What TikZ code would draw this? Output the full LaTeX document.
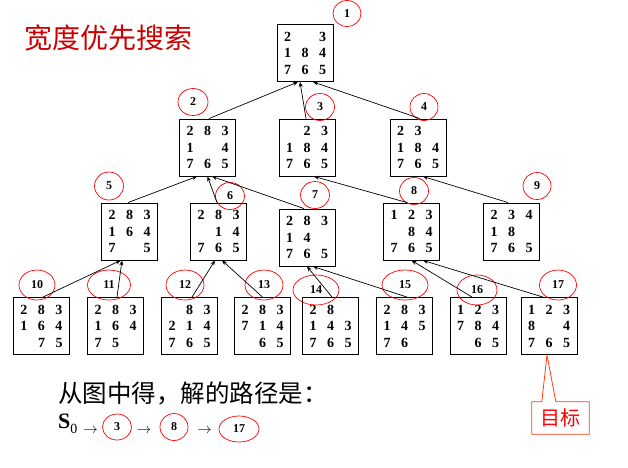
\documentclass[tikz,border=0pt]{standalone}
\usepackage{fontspec}
\setmainfont{Liberation Serif}
\newfontfamily\cjk{Noto Sans CJK SC}
\usetikzlibrary{shapes.geometric,arrows.meta}
\definecolor{titlered}{RGB}{204,0,0}
\definecolor{calloutred}{RGB}{255,60,20}
\newcommand\pzr[3]{\makebox[17.5pt]{#1}\makebox[17.5pt]{#2}\makebox[17.5pt]{#3}}
\newcommand\pz[9]{\pzr{#1}{#2}{#3}\\\pzr{#4}{#5}{#6}\\\pzr{#7}{#8}{#9}}
\tikzset{
  board/.style={draw, line width=0.9pt, minimum width=56pt, minimum height=57pt, inner sep=0pt, align=center, font=\bfseries\fontsize{14}{16.5}\selectfont},
  tag/.style={ellipse, draw=red, line width=0.7pt, inner sep=0pt, font=\bfseries\fontsize{12}{12}\selectfont},
  link/.style={-{Stealth[length=5pt,width=4pt]}, line width=0.7pt},
}
\begin{document}
\begin{tikzpicture}[x=1pt,y=-1pt]
\useasboundingbox (0,0) rectangle (628,467);
% title
\node[anchor=west, inner sep=0, text=titlered, font=\cjk\fontsize{28}{28}\selectfont] (title) at (24,38) {宽度优先搜索};
% boards
\node[board] (b1) at (305,53) {\pz{2}{}{3}{1}{8}{4}{7}{6}{5}};
\node[board] (b2) at (207.5,147.5) {\pz{2}{8}{3}{1}{}{4}{7}{6}{5}};
\node[board] (b3) at (307,147.5) {\pz{}{2}{3}{1}{8}{4}{7}{6}{5}};
\node[board] (b4) at (418,147.5) {\pz{2}{3}{}{1}{8}{4}{7}{6}{5}};
\node[board] (b5) at (129.5,231.5) {\pz{2}{8}{3}{1}{6}{4}{7}{}{5}};
\node[board] (b6) at (218.5,231.5) {\pz{2}{8}{3}{}{1}{4}{7}{6}{5}};
\node[board] (b7) at (307,237.5) {\pz{2}{8}{3}{1}{4}{}{7}{6}{5}};
\node[board] (b8) at (411.5,231.5) {\pz{1}{2}{3}{}{8}{4}{7}{6}{5}};
\node[board] (b9) at (511.5,231.5) {\pz{2}{3}{4}{1}{8}{}{7}{6}{5}};
\node[board] (b10) at (41.5,326) {\pz{2}{8}{3}{1}{6}{4}{}{7}{5}};
\node[board] (b11) at (115.5,326) {\pz{2}{8}{3}{1}{6}{4}{7}{5}{}};
\node[board] (b12) at (189.5,326) {\pz{}{8}{3}{2}{1}{4}{7}{6}{5}};
\node[board] (b13) at (262.5,326) {\pz{2}{8}{3}{7}{1}{4}{}{6}{5}};
\node[board] (b14) at (330.5,326) {\pz{2}{8}{}{1}{4}{3}{7}{6}{5}};
\node[board] (b15) at (404.5,326) {\pz{2}{8}{3}{1}{4}{5}{7}{6}{}};
\node[board] (b16) at (478,326) {\pz{1}{2}{3}{7}{8}{4}{}{6}{5}};
\node[board] (b17) at (549,326) {\pz{1}{2}{3}{8}{}{4}{7}{6}{5}};
% order tags
\node[tag, minimum width=28pt, minimum height=26pt] (c1) at (347,13.5) {1};
\node[tag, minimum width=30pt, minimum height=27pt] (c2) at (193,102) {2};
\node[tag, minimum width=29pt, minimum height=27pt] (c3) at (320,107) {3};
\node[tag, minimum width=28pt, minimum height=27pt] (c4) at (424,107) {4};
\node[tag, minimum width=29pt, minimum height=28pt] (c5) at (109,186) {5};
\node[tag, minimum width=29pt, minimum height=27pt] (c6) at (230,196) {6};
\node[tag, minimum width=29pt, minimum height=27pt] (c7) at (315,195) {7};
\node[tag, minimum width=29pt, minimum height=27pt] (c8) at (414,191) {8};
\node[tag, minimum width=28pt, minimum height=27pt] (c9) at (537,186) {9};
\node[tag, minimum width=36pt, minimum height=30pt] (c10) at (37,285) {10};
\node[tag, minimum width=43pt, minimum height=30pt] (c11) at (109,285) {11};
\node[tag, minimum width=38pt, minimum height=30pt] (c12) at (185,285) {12};
\node[tag, minimum width=38pt, minimum height=30pt] (c13) at (264,285) {13};
\node[tag, minimum width=46pt, minimum height=30pt] (c14) at (316,290) {14};
\node[tag, minimum width=46pt, minimum height=30pt] (c15) at (405,285) {15};
\node[tag, minimum width=40pt, minimum height=30pt] (c16) at (477,290) {16};
\node[tag, minimum width=37pt, minimum height=30pt] (c17) at (558,285) {17};
% links child -> parent
\draw[link] ([xshift=1.5pt]b2.north) -- ([xshift=-7pt]b1.south);
\draw[link] ([xshift=-1pt]b3.north) -- ([xshift=-5pt]b1.south);
\draw[link] ([xshift=2pt]b4.north) -- ([xshift=8pt]b1.south);
\draw[link] ([xshift=-1.5pt]b5.north) -- ([xshift=-10.5pt]b2.south);
\draw[link] ([xshift=-1.5pt]b6.north) -- ([xshift=0pt]b2.south);
\draw[link] ([xshift=-3pt]b7.north) -- ([xshift=4.5pt]b2.south);
\draw[link] ([xshift=-4.5pt]b8.north) -- ([xshift=7pt]b3.south);
\draw[link] ([xshift=-3.5pt]b9.north) -- ([xshift=5pt]b4.south);
\draw[link] ([xshift=1.5pt]b10.north) -- ([xshift=-9pt]b5.south);
\draw[link] ([xshift=1.5pt]b11.north) -- ([xshift=-7.5pt]b5.south);
\draw[link] ([xshift=2.5pt]b12.north) -- ([xshift=-3.5pt]b6.south);
\draw[link] ([xshift=0pt]b13.north) -- ([xshift=3.5pt]b6.south);
\draw[link] ([xshift=1.5pt]b14.north) -- ([xshift=0pt]b7.south);
\draw[link] ([xshift=2.5pt]b15.north) -- ([xshift=6pt]b7.south);
\draw[link] ([xshift=-6pt]b16.north) -- ([xshift=0pt]b8.south);
\draw[link] ([xshift=-6pt]b17.north) -- ([xshift=11.5pt]b8.south);
% solution text
\node[anchor=west, inner sep=0, font=\cjk\fontsize{24.5}{24.5}\selectfont] (sol) at (58,393) {从图中得，解的路径是：};
\node[anchor=base west, inner sep=0] (s0) at (58,428) {{\bfseries\fontsize{22}{22}\selectfont S}\raisebox{-5pt}{\fontsize{14}{14}\selectfont 0}};
\node[inner sep=0, font=\fontsize{15}{15}\selectfont] (r1) at (90.5,431) {$\rightarrow$};
\node[tag, minimum width=29pt, minimum height=26pt] (p3) at (117,427) {3};
\node[inner sep=0, font=\fontsize{15}{15}\selectfont] (r2) at (144,431) {$\rightarrow$};
\node[tag, minimum width=28pt, minimum height=27pt] (p8) at (174,427) {8};
\node[inner sep=0, font=\fontsize{15}{15}\selectfont] (r3) at (204.5,431) {$\rightarrow$};
\node[tag, minimum width=40pt, minimum height=26pt] (p17) at (239,429) {17};
% goal callout
\node[inner sep=0, minimum width=57pt, minimum height=32pt, text=red, font=\cjk\fontsize{20}{20}\selectfont] (goal) at (560.5,418) {目标};
\draw[calloutred, line width=0.8pt] (goal.north west) -- ([xshift=10pt]goal.north west) -- ([xshift=-2pt]b17.south) -- ([xshift=24pt]goal.north west) -- (goal.north east) -- (goal.south east) -- (goal.south west) -- cycle;
\end{tikzpicture}
\end{document}
